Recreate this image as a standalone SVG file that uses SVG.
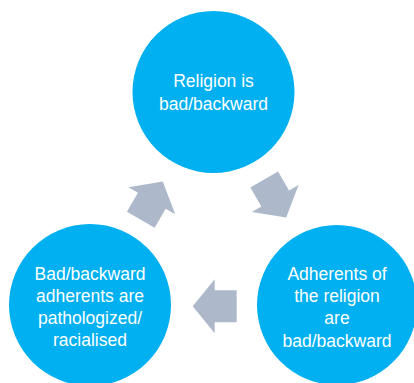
<svg xmlns="http://www.w3.org/2000/svg" width="414" height="383" viewBox="0 0 414 383">
<defs>
<style>
.node circle{fill:#00B0F0}
.node text{fill:#FFFFFF;font-family:"Liberation Sans",Arial,sans-serif;font-size:17.5px;text-anchor:middle}
.arrow{fill:#ADB9CA}
</style>
<polygon id="arr" points="0,-16 22,-16 22,-27 44,0 22,27 22,16 0,16"/>
</defs>
<rect width="414" height="383" fill="#FFFFFF"/>
<g id="connectors">
<use href="#arr" class="arrow" transform="translate(140.8,219.7) rotate(-60)"/>
<use href="#arr" class="arrow" transform="translate(264.2,179.5) rotate(60)"/>
<use href="#arr" class="arrow" transform="translate(236.7,306.3) rotate(180)"/>
</g>
<g id="node-top" class="node">
<circle cx="213.5" cy="92" r="81"/>
<text x="213.5" y="87">Religion is</text>
<text x="213.5" y="110">bad/backward</text>
</g>
<g id="node-right" class="node">
<circle cx="337" cy="305" r="80"/>
<text x="337" y="280">Adherents of</text>
<text x="337" y="302">the religion</text>
<text x="337" y="324">are</text>
<text x="337" y="346.5">bad/backward</text>
</g>
<g id="node-left" class="node">
<circle cx="90" cy="305" r="81"/>
<text x="90" y="279.5">Bad/backward</text>
<text x="90" y="301.5">adherents are</text>
<text x="90" y="323.5">pathologized/</text>
<text x="90" y="346">racialised</text>
</g>
</svg>
